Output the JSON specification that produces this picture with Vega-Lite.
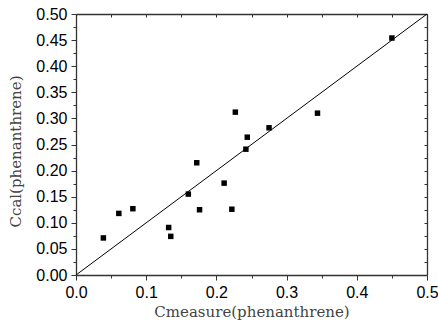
{
  "$schema": "https://vega.github.io/schema/vega-lite/v6.json",
  "width": 351,
  "height": 261,
  "autosize": "none",
  "padding": {"left": 76, "top": 14, "right": 11, "bottom": 51},
  "config": {
    "view": {"stroke": null},
    "axis": {
      "grid": false,
      "domainColor": "#333333",
      "domainWidth": 1.3,
      "tickColor": "#333333",
      "tickWidth": 1,
      "labelFont": "Liberation Sans",
      "labelFontSize": 16,
      "labelColor": "#000000",
      "titleFont": "DejaVu Serif",
      "titleFontSize": 15,
      "titleFontWeight": "normal",
      "titleColor": "#444444"
    }
  },
  "datasets": {
    "pts": [
      {"measure": 0.039, "cal": 0.071},
      {"measure": 0.061, "cal": 0.118},
      {"measure": 0.081, "cal": 0.127},
      {"measure": 0.132, "cal": 0.091},
      {"measure": 0.135, "cal": 0.074},
      {"measure": 0.160, "cal": 0.155},
      {"measure": 0.172, "cal": 0.215},
      {"measure": 0.176, "cal": 0.125},
      {"measure": 0.211, "cal": 0.176},
      {"measure": 0.222, "cal": 0.126},
      {"measure": 0.227, "cal": 0.312},
      {"measure": 0.242, "cal": 0.241},
      {"measure": 0.244, "cal": 0.264},
      {"measure": 0.275, "cal": 0.282},
      {"measure": 0.344, "cal": 0.310},
      {"measure": 0.450, "cal": 0.454}
    ],
    "diag": [
      {"measure": 0, "cal": 0},
      {"measure": 0.5, "cal": 0.5}
    ]
  },
  "layer": [
    {
      "data": {"name": "diag"},
      "mark": {"type": "line", "color": "#000000", "strokeWidth": 1, "clip": true},
      "encoding": {
        "x": {"field": "measure", "type": "quantitative",
          "scale": {"domain": [0, 0.5], "nice": false, "zero": false},
          "axis": {"orient": "top", "labels": false, "title": null,
            "values": [0, 0.05, 0.1, 0.15, 0.2, 0.25, 0.3, 0.35, 0.4, 0.45, 0.5],
            "tickSize": -3}},
        "y": {"field": "cal", "type": "quantitative",
          "scale": {"domain": [0, 0.5], "nice": false, "zero": false},
          "axis": {"orient": "right", "labels": false, "title": null,
            "values": [0, 0.025, 0.05, 0.075, 0.1, 0.125, 0.15, 0.175, 0.2, 0.225, 0.25, 0.275, 0.3, 0.325, 0.35, 0.375, 0.4, 0.425, 0.45, 0.475, 0.5],
            "tickSize": -3}}
      }
    },
    {
      "data": {"name": "diag"},
      "mark": {"type": "point", "opacity": 0},
      "encoding": {
        "x": {"field": "measure", "type": "quantitative",
          "scale": {"domain": [0, 0.5], "nice": false, "zero": false},
          "axis": {"orient": "bottom", "labels": false, "title": null, "domain": false,
            "values": [0.05, 0.15, 0.25, 0.35, 0.45],
            "tickSize": 3}},
        "y": {"field": "cal", "type": "quantitative",
          "scale": {"domain": [0, 0.5], "nice": false, "zero": false},
          "axis": {"orient": "left", "labels": false, "title": null, "domain": false,
            "values": [0.025, 0.075, 0.125, 0.175, 0.225, 0.275, 0.325, 0.375, 0.425, 0.475],
            "tickSize": 3}}
      }
    },
    {
      "data": {"name": "pts"},
      "mark": {"type": "square", "size": 30, "color": "#000000", "opacity": 1},
      "encoding": {
        "x": {"field": "measure", "type": "quantitative",
          "scale": {"domain": [0, 0.5], "nice": false, "zero": false},
          "axis": {"orient": "bottom", "title": "Cmeasure(phenanthrene)",
            "values": [0, 0.1, 0.2, 0.3, 0.4, 0.5], "format": ".1f",
            "tickSize": 5, "labelPadding": 4, "titlePadding": 4, "labelFlush": false}},
        "y": {"field": "cal", "type": "quantitative",
          "scale": {"domain": [0, 0.5], "nice": false, "zero": false},
          "axis": {"orient": "left", "title": "Ccal(phenanthrene)",
            "values": [0, 0.05, 0.1, 0.15, 0.2, 0.25, 0.3, 0.35, 0.4, 0.45, 0.5], "format": ".2f",
            "tickSize": 5, "labelPadding": 4, "titlePadding": 12, "titleY": 137, "labelFlush": false}}
      }
    }
  ],
  "resolve": {"axis": {"x": "independent", "y": "independent"}}
}
